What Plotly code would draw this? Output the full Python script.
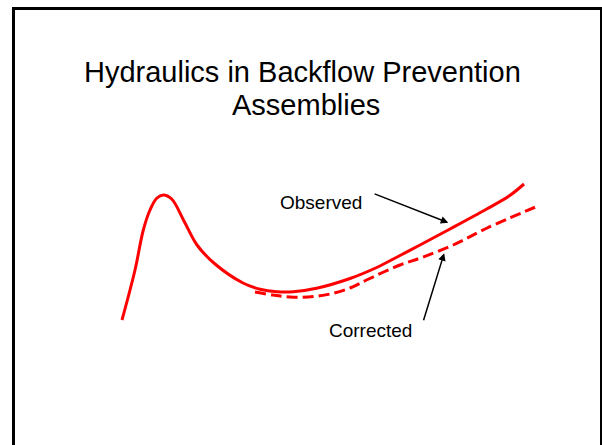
import plotly.graph_objects as go

# Schematic head-loss curve of a backflow prevention assembly
# x: flow rate (relative units), y: head loss (relative units)
observed_flow = [0, 3.15, 5.16, 6.78, 8.4, 10, 12.03, 15.01, 18.16, 22.52,
                 29.3, 33.4, 37.5, 41.5, 47.1, 55.21, 61.67, 67.31, 72.15,
                 79.42, 88.3, 93.89, 97.34]
observed_loss = [0, 20, 36, 44, 48.7, 50, 48.4, 39.6, 30, 22.4,
                 14.8, 12.3, 11.3, 11.3, 12.7, 16.6, 21, 25.8, 30,
                 36.4, 44.4, 49.8, 54.4]

corrected_flow = [32.2, 36.5, 41.5, 46.5, 51.2, 55.5, 59.2, 67.3, 72.6, 80.2,
                  88.3, 100]
corrected_loss = [11.2, 10.0, 9.1, 9.4, 10.7, 13.0, 16.0, 22.0, 25.0, 30.0,
                  36.7, 45.1]

title_lines = ["Hydraulics in Backflow Prevention", "Assemblies"]
labels = ["Observed", "Corrected"]

FONT = "Liberation Sans, Arial, sans-serif"
W, H = 602, 445

fig = go.Figure()
fig.add_trace(go.Scatter(
    x=observed_flow, y=observed_loss, mode="lines",
    line=dict(color="#ff0000", width=3, shape="spline", smoothing=1.0),
    hoverinfo="skip", showlegend=False))
fig.add_trace(go.Scatter(
    x=corrected_flow, y=corrected_loss, mode="lines",
    line=dict(color="#ff0000", width=3, dash="11px,5px", shape="spline",
              smoothing=1.0),
    hoverinfo="skip", showlegend=False))

# Title, two centred lines
fig.add_annotation(text=title_lines[0], xref="paper", yref="paper",
                   x=302 / W, y=1 - 72 / H, xanchor="center", yanchor="middle",
                   showarrow=False, font=dict(family=FONT, size=29, color="black"))
fig.add_annotation(text=title_lines[1], xref="paper", yref="paper",
                   x=306 / W, y=1 - 105 / H, xanchor="center", yanchor="middle",
                   showarrow=False, font=dict(family=FONT, size=29, color="black"))

# Curve labels
fig.add_annotation(text=labels[0], x=48.1, y=47.2, showarrow=False,
                   font=dict(family=FONT, size=19, color="black"))
fig.add_annotation(text=labels[1], x=60.2, y=-4.0, showarrow=False,
                   font=dict(family=FONT, size=19, color="black"))

# Pointer arrows
fig.add_annotation(x=79.0, y=38.9, ax=60.8, ay=50.7, axref="x", ayref="y",
                   text="", showarrow=True, arrowhead=2, arrowsize=1,
                   arrowwidth=1.5, arrowcolor="black")
fig.add_annotation(x=78.0, y=26.7, ax=72.9, ay=-0.7, axref="x", ayref="y",
                   text="", showarrow=True, arrowhead=2, arrowsize=1,
                   arrowwidth=1.5, arrowcolor="black")

# Slide frame
fig.add_shape(type="line", xref="paper", yref="paper",
              x0=12 / W, x1=1, y0=1 - 8.5 / H, y1=1 - 8.5 / H,
              line=dict(color="black", width=3))
fig.add_shape(type="line", xref="paper", yref="paper",
              x0=13.5 / W, x1=13.5 / W, y0=0, y1=1 - 7 / H,
              line=dict(color="black", width=3))
fig.add_shape(type="line", xref="paper", yref="paper",
              x0=601 / W, x1=601 / W, y0=0, y1=1 - 7 / H,
              line=dict(color="black", width=2))

fig.update_xaxes(range=[-29.54, 116.22], visible=False, fixedrange=True)
fig.update_yaxes(range=[-50, 128], visible=False, fixedrange=True)
fig.update_layout(width=W, height=H, margin=dict(l=0, r=0, t=0, b=0),
                  paper_bgcolor="white", plot_bgcolor="white")

fig.write_html("out.html")
